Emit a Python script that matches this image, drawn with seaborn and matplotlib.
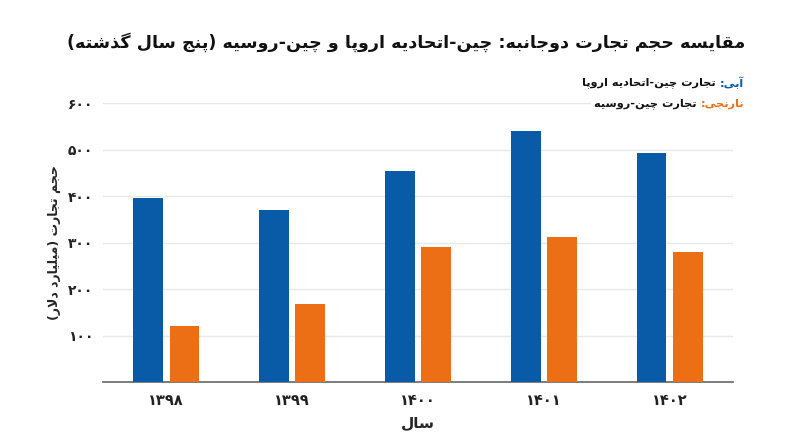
import matplotlib
matplotlib.use('Agg')
import matplotlib.pyplot as plt
import pandas as pd
import seaborn as sns

# Data (billion dollars)
years = ['۱۳۹۸', '۱۳۹۹', '۱۴۰۰', '۱۴۰۱', '۱۴۰۲']
eu_trade = [395, 370, 453, 541, 493]
russia_trade = [120, 168, 291, 312, 280]
series_names = ['چین-اتحادیه اروپا', 'چین-روسیه']
y_ticks = [100, 200, 300, 400, 500, 600]
y_tick_labels = ['۱۰۰', '۲۰۰', '۳۰۰', '۴۰۰', '۵۰۰', '۶۰۰']

title = 'مقایسه حجم تجارت دوجانبه: چین-اتحادیه اروپا و چین-روسیه (پنج سال گذشته)'
y_label = 'حجم تجارت (میلیارد دلار)'
x_label = 'سال'
legend_rows = [('آبی:', ' تجارت چین-اتحادیه اروپا'), ('نارنجی:', ' تجارت چین-روسیه')]

BLUE = '#0a5ba7'
ORANGE = '#ec6f15'

# matplotlib has no Arabic shaping, so do a small Persian reshaper by hand
# forms: isolated, final, initial, medial
FORMS = {
    'ا': ('\uFE8D', '\uFE8E'), 'آ': ('\uFE81', '\uFE82'),
    'ب': ('\uFE8F', '\uFE90', '\uFE91', '\uFE92'),
    'پ': ('\uFB56', '\uFB57', '\uFB58', '\uFB59'),
    'ت': ('\uFE95', '\uFE96', '\uFE97', '\uFE98'),
    'ث': ('\uFE99', '\uFE9A', '\uFE9B', '\uFE9C'),
    'ج': ('\uFE9D', '\uFE9E', '\uFE9F', '\uFEA0'),
    'چ': ('\uFB7A', '\uFB7B', '\uFB7C', '\uFB7D'),
    'ح': ('\uFEA1', '\uFEA2', '\uFEA3', '\uFEA4'),
    'خ': ('\uFEA5', '\uFEA6', '\uFEA7', '\uFEA8'),
    'د': ('\uFEA9', '\uFEAA'), 'ذ': ('\uFEAB', '\uFEAC'),
    'ر': ('\uFEAD', '\uFEAE'), 'ز': ('\uFEAF', '\uFEB0'),
    'ژ': ('\uFB8A', '\uFB8B'),
    'س': ('\uFEB1', '\uFEB2', '\uFEB3', '\uFEB4'),
    'ش': ('\uFEB5', '\uFEB6', '\uFEB7', '\uFEB8'),
    'ص': ('\uFEB9', '\uFEBA', '\uFEBB', '\uFEBC'),
    'ض': ('\uFEBD', '\uFEBE', '\uFEBF', '\uFEC0'),
    'ط': ('\uFEC1', '\uFEC2', '\uFEC3', '\uFEC4'),
    'ظ': ('\uFEC5', '\uFEC6', '\uFEC7', '\uFEC8'),
    'ع': ('\uFEC9', '\uFECA', '\uFECB', '\uFECC'),
    'غ': ('\uFECD', '\uFECE', '\uFECF', '\uFED0'),
    'ف': ('\uFED1', '\uFED2', '\uFED3', '\uFED4'),
    'ق': ('\uFED5', '\uFED6', '\uFED7', '\uFED8'),
    'ک': ('\uFB8E', '\uFB8F', '\uFB90', '\uFB91'),
    'گ': ('\uFB92', '\uFB93', '\uFB94', '\uFB95'),
    'ل': ('\uFEDD', '\uFEDE', '\uFEDF', '\uFEE0'),
    'م': ('\uFEE1', '\uFEE2', '\uFEE3', '\uFEE4'),
    'ن': ('\uFEE5', '\uFEE6', '\uFEE7', '\uFEE8'),
    'ه': ('\uFEE9', '\uFEEA', '\uFEEB', '\uFEEC'),
    'و': ('\uFEED', '\uFEEE'),
    'ی': ('\uFBFC', '\uFBFD', '\uFBFE', '\uFBFF'),
}
LAM_ALEF = {'ا': ('\uFEFB', '\uFEFC'), 'آ': ('\uFEF5', '\uFEF6')}
MIRROR = {'(': ')', ')': '('}


def shape(text):
    chars = list(text)
    out = []
    i = 0
    while i < len(chars):
        c = chars[i]
        prev = chars[i - 1] if i > 0 else ''
        joins_prev = prev in FORMS and len(FORMS[prev]) == 4
        if c == 'ل' and i + 1 < len(chars) and chars[i + 1] in LAM_ALEF:
            out.append(LAM_ALEF[chars[i + 1]][1 if joins_prev else 0])
            i += 2
            continue
        if c not in FORMS:
            out.append(MIRROR.get(c, c))
            i += 1
            continue
        f = FORMS[c]
        nxt = chars[i + 1] if i + 1 < len(chars) else ''
        joins_next = len(f) == 4 and nxt in FORMS
        if joins_prev and joins_next:
            out.append(f[3])
        elif joins_prev:
            out.append(f[1])
        elif joins_next:
            out.append(f[2])
        else:
            out.append(f[0])
        i += 1
    return ''.join(reversed(out))


df = pd.DataFrame({
    'year': years * 2,
    'value': eu_trade + russia_trade,
    'series': [series_names[0]] * len(years) + [series_names[1]] * len(years),
})

sns.set_theme(style='white')
plt.rcParams['font.family'] = ['DejaVu Sans']

fig = plt.figure(figsize=(8, 4.47), dpi=100)
ax = fig.add_axes([0.129, 0.1454, 0.787, 0.624])

sns.barplot(data=df, x='year', y='value', hue='series', order=years,
            palette=[BLUE, ORANGE], width=0.582, gap=0.186, saturation=1,
            linewidth=0, legend=False, ax=ax, zorder=3)

ax.set_ylim(0, 600)
ax.set_yticks(y_ticks)
ax.set_yticklabels(y_tick_labels, fontsize=10, fontweight='bold')
ax.set_xticks(range(len(years)))
ax.set_xticklabels(years, fontsize=10.5, fontweight='bold')
ax.tick_params(axis='y', length=0, pad=7, colors='#222222')
ax.tick_params(axis='x', length=0, pad=8, colors='#222222')
ax.yaxis.grid(True, color='#e8e8e8', linewidth=1, zorder=0)
ax.set_axisbelow(True)
for side in ['top', 'right', 'left']:
    ax.spines[side].set_visible(False)
ax.spines['bottom'].set_color('#666666')
ax.spines['bottom'].set_linewidth(1.2)

ax.set_xlabel(shape(x_label), fontsize=11, fontweight='bold', labelpad=5)
ax.set_ylabel(shape(y_label), fontsize=9, fontweight='bold', labelpad=5)

fig.text(0.508, 0.905, shape(title), ha='center', va='center',
         fontsize=12.6, fontweight='bold', color='#111111')

# colored legend lines at the top right, right-to-left
row_y = [0.815, 0.768]
for (key, rest), color, yy in zip(legend_rows, [BLUE, ORANGE], row_y):
    t_key = fig.text(0.93, yy, shape(key), ha='right', va='center',
                     fontsize=8.2, fontweight='bold', color=color,
                     bbox=dict(facecolor='white', edgecolor='none', pad=2))
    ax.annotate(shape(rest), xy=(0, 0.5), xycoords=t_key, ha='right', va='center',
                fontsize=8.2, fontweight='bold', color='#111111',
                annotation_clip=False,
                bbox=dict(facecolor='white', edgecolor='none', pad=2))

fig.savefig('out.png', dpi=100, facecolor='white')
